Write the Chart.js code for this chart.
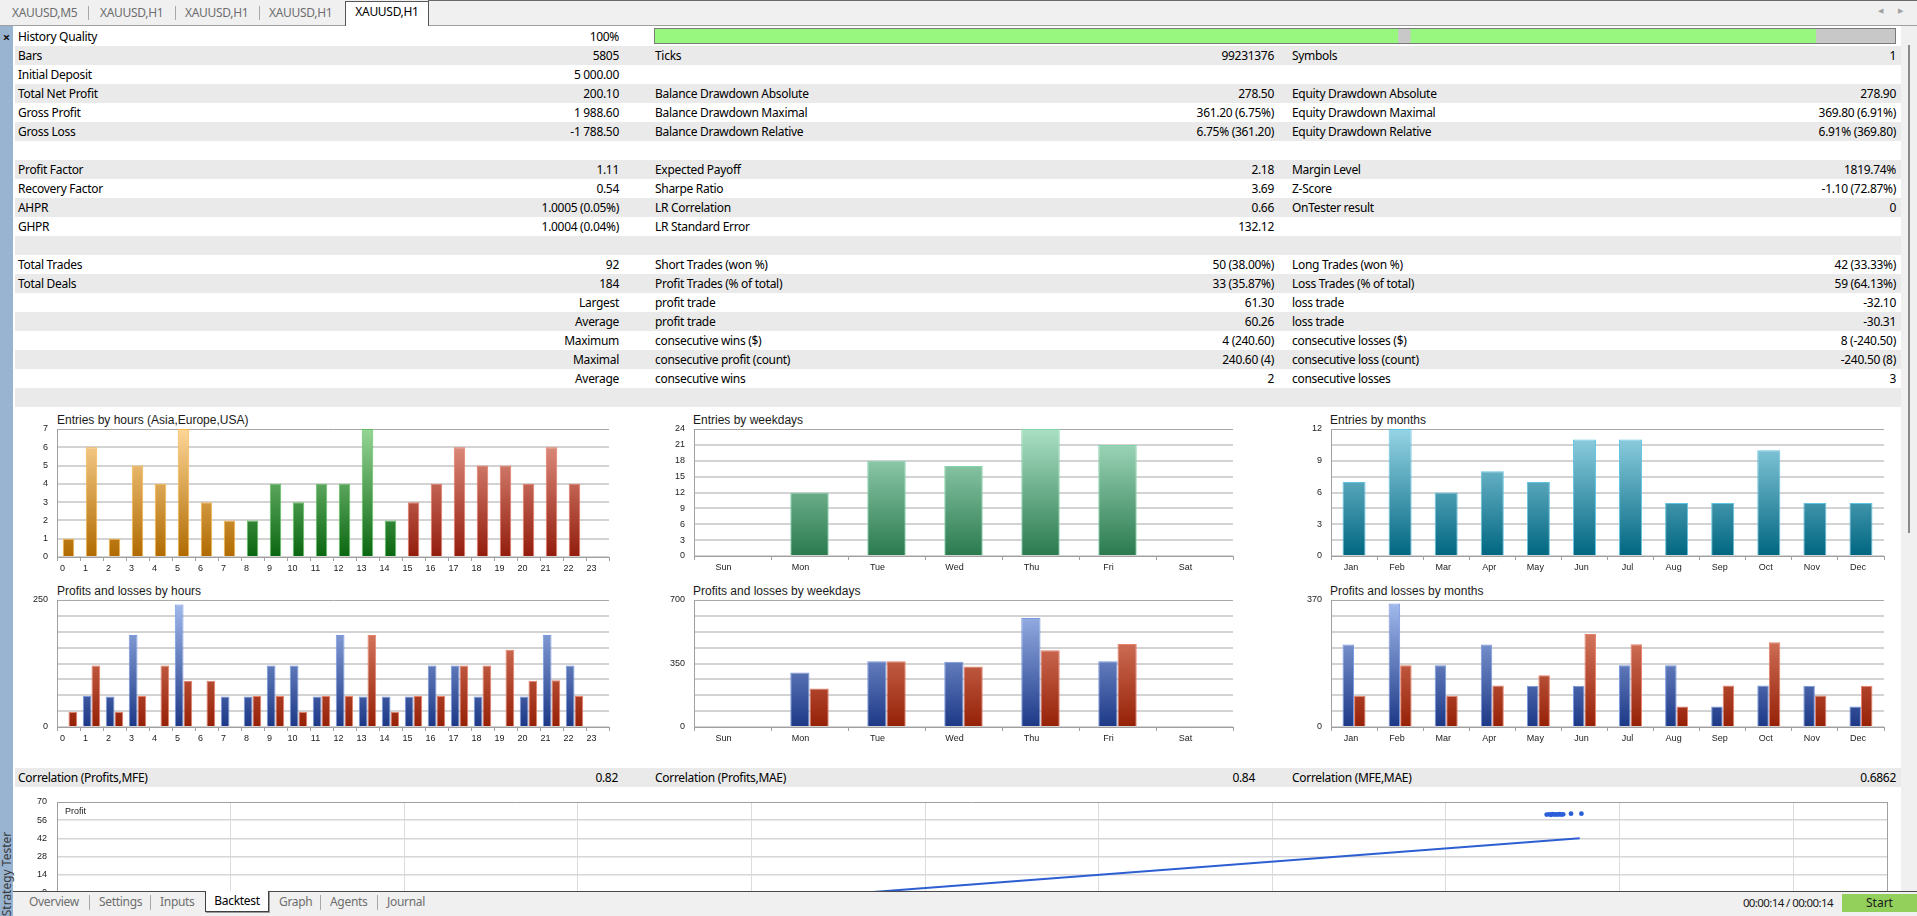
<!DOCTYPE html>
<html><head><meta charset="utf-8">
<script src="https://cdn.jsdelivr.net/npm/chart.js@4.4.1/dist/chart.umd.min.js"></script>
<style>
html,body{margin:0;padding:0;width:1917px;height:916px;overflow:hidden;background:#fff;font-family:"Noto Sans",sans-serif;font-size:12px;color:#000;}
.abs{position:absolute;}
.row{position:absolute;left:15px;width:1886px;height:19px;line-height:19px;}
.row span{position:absolute;top:0;white-space:nowrap;letter-spacing:-0.3px;}
.ttl{position:absolute;white-space:nowrap;font-family:"Liberation Sans",Arial,sans-serif;font-size:12px;color:#1a1a1a;line-height:14px;}
.tab{position:absolute;white-space:nowrap;color:#6e6e6e;letter-spacing:-0.3px;line-height:18px;}
.sep{position:absolute;width:1px;background:#a8a8a8;}
</style></head><body>
<script>
// ---------------- data ----------------
const statRows = [
 ['History Quality','100%','','','',''],
 ['Bars','5805','Ticks','99231376','Symbols','1'],
 ['Initial Deposit','5 000.00','','','',''],
 ['Total Net Profit','200.10','Balance Drawdown Absolute','278.50','Equity Drawdown Absolute','278.90'],
 ['Gross Profit','1 988.60','Balance Drawdown Maximal','361.20 (6.75%)','Equity Drawdown Maximal','369.80 (6.91%)'],
 ['Gross Loss','-1 788.50','Balance Drawdown Relative','6.75% (361.20)','Equity Drawdown Relative','6.91% (369.80)'],
 ['','','','','',''],
 ['Profit Factor','1.11','Expected Payoff','2.18','Margin Level','1819.74%'],
 ['Recovery Factor','0.54','Sharpe Ratio','3.69','Z-Score','-1.10 (72.87%)'],
 ['AHPR','1.0005 (0.05%)','LR Correlation','0.66','OnTester result','0'],
 ['GHPR','1.0004 (0.04%)','LR Standard Error','132.12','',''],
 ['','','','','',''],
 ['Total Trades','92','Short Trades (won %)','50 (38.00%)','Long Trades (won %)','42 (33.33%)'],
 ['Total Deals','184','Profit Trades (% of total)','33 (35.87%)','Loss Trades (% of total)','59 (64.13%)'],
 ['','Largest','profit trade','61.30','loss trade','-32.10'],
 ['','Average','profit trade','60.26','loss trade','-30.31'],
 ['','Maximum','consecutive wins ($)','4 (240.60)','consecutive losses ($)','8 (-240.50)'],
 ['','Maximal','consecutive profit (count)','240.60 (4)','consecutive loss (count)','-240.50 (8)'],
 ['','Average','consecutive wins','2','consecutive losses','3'],
 ['','','','','','']
];
const correlationRow = ['Correlation (Profits,MFE)','0.82','Correlation (Profits,MAE)','0.84','Correlation (MFE,MAE)','0.6862'];

const historyQualitySegments = [59.9, 1.0, 32.7, 6.4];   // % of test period: good, missing, good, missing

const hourLabels = ['0','1','2','3','4','5','6','7','8','9','10','11','12','13','14','15','16','17','18','19','20','21','22','23'];
const entriesByHour = [1,6,1,5,4,7,3,2,2,4,3,4,4,7,2,3,4,6,5,5,4,6,4,0];
const sessionNames = ['Asia','Europe','USA'];
const sessionFirstHour = [0, 8, 15];

const weekdayLabels = ['Sun','Mon','Tue','Wed','Thu','Fri','Sat'];
const entriesByWeekday = [0,12,18,17,24,21,0];

const monthLabels = ['Jan','Feb','Mar','Apr','May','Jun','Jul','Aug','Sep','Oct','Nov','Dec'];
const entriesByMonth = [7,12,6,8,7,11,11,5,5,10,5,5];

const profitsByHour = [0,61,60,181,0,241,0,60,60,121,121,60,181,60,60,60,121,121,60,0,60,181,121,0];
const lossesByHour  = [30,121,30,61,121,91,91,0,61,61,30,61,61,181,30,61,61,121,121,152,91,92,61,0];

const profitsByWeekday = [0,301,362,359,601,362,0];
const lossesByWeekday  = [0,212,362,333,423,458,0];

const profitsByMonth = [240,360,180,240,120,120,180,180,60,121,120,60];
const lossesByMonth  = [91,180,91,121,151,271,241,60,121,247,92,120];

const tickEntriesHour = [0,1,2,3,4,5,6,7];
const tickEntriesWeek = [0,3,6,9,12,15,18,21,24];
const tickEntriesMonth = [0,3,6,9,12];
const tickPLHour = [0,250];
const tickPLWeek = [0,350,700];
const tickPLMonth = [0,370];

const scatterMFE    = [85.8,85.95,86.05,86.15,86.25,86.35,86.45,86.55,86.65,86.75,87.2,87.8];
const scatterProfit = [60.3,60.5,60.2,60.6,60.3,60.5,60.4,60.6,60.3,60.5,61.0,61.0];
const regressionMFE    = [34.5, 87.7];
const regressionProfit = [-12.0, 42.1];
const scatterTicks = [70,56,42,28,14,0];
</script>

<!-- top tab bar -->
<div class="abs" style="left:0;top:0;width:1917px;height:26px;background:#f0f0f0;"></div>
<div class="abs" style="left:0;top:25px;width:1917px;height:1px;background:#a0a0a0;"></div>
<div class="abs" style="left:428px;top:0;width:1489px;height:1px;background:#6a6a6a;"></div>
<div class="tab" style="left:12px;top:4px;">XAUUSD,M5</div>
<div class="sep" style="left:88px;top:6px;height:14px;"></div>
<div class="tab" style="left:100px;top:4px;">XAUUSD,H1</div>
<div class="sep" style="left:175px;top:6px;height:14px;"></div>
<div class="tab" style="left:185px;top:4px;">XAUUSD,H1</div>
<div class="sep" style="left:259px;top:6px;height:14px;"></div>
<div class="tab" style="left:269px;top:4px;">XAUUSD,H1</div>
<div class="abs" style="left:345px;top:1px;width:84px;height:25px;box-sizing:border-box;background:#fff;border:1px solid #555;border-bottom:none;text-align:center;line-height:19px;letter-spacing:-0.3px;">XAUUSD,H1</div>
<div class="abs" style="left:1878px;top:4px;font-size:7px;color:#a0a0a0;line-height:14px;">&#9664;</div>
<div class="abs" style="left:1898px;top:4px;font-size:7px;color:#a0a0a0;line-height:14px;">&#9654;</div>

<!-- left strip -->
<div class="abs" style="left:0;top:26px;width:13px;height:890px;background:#99b4d1;"></div>
<div class="abs" style="left:0;top:28px;width:13px;text-align:center;font-size:13px;line-height:18px;font-weight:bold;color:#111;">&#215;</div>
<div class="abs" style="left:6px;top:874px;transform:translate(-50%,-50%) rotate(-90deg);white-space:nowrap;font-size:12px;color:#3a3a3a;">Strategy Tester</div>

<!-- scrollbar -->
<div class="abs" style="left:1901px;top:26px;width:16px;height:865px;background:#f0f0f0;"></div>
<div class="abs" style="left:1908px;top:45px;width:2px;height:488px;background:#8a8a8a;"></div>

<div id="rows"></div>

<!-- chart titles -->
<div class="ttl" style="left:57px;top:413px;">Entries by hours (Asia,Europe,USA)</div>
<div class="ttl" style="left:693px;top:413px;">Entries by weekdays</div>
<div class="ttl" style="left:1330px;top:413px;">Entries by months</div>
<div class="ttl" style="left:57px;top:584px;">Profits and losses by hours</div>
<div class="ttl" style="left:693px;top:584px;">Profits and losses by weekdays</div>
<div class="ttl" style="left:1330px;top:584px;">Profits and losses by months</div>

<!-- bottom bar -->
<div class="abs" style="left:13px;top:891px;width:1904px;height:25px;background:#f0f0f0;border-top:1px solid #4a4a4a;box-sizing:border-box;z-index:5;"></div>
<div style="position:absolute;left:0;top:0;z-index:6;">
  <div class="tab" style="left:29px;top:893px;">Overview</div>
  <div class="sep" style="left:89px;top:895px;height:15px;"></div>
  <div class="tab" style="left:99px;top:893px;">Settings</div>
  <div class="sep" style="left:150px;top:895px;height:15px;"></div>
  <div class="tab" style="left:160px;top:893px;">Inputs</div>
  <div class="abs" style="left:205px;top:891px;width:64px;height:21px;box-sizing:border-box;background:#fff;border:1px solid #404040;border-top:none;box-shadow:1px 1px 0 #9a9a9a;text-align:center;line-height:20px;letter-spacing:-0.3px;color:#000;">Backtest</div>
  <div class="tab" style="left:279px;top:893px;">Graph</div>
  <div class="sep" style="left:320px;top:895px;height:15px;"></div>
  <div class="tab" style="left:330px;top:893px;">Agents</div>
  <div class="sep" style="left:377px;top:895px;height:15px;"></div>
  <div class="tab" style="left:387px;top:893px;">Journal</div>
  <div class="abs" style="left:1633px;top:894px;width:200px;text-align:right;font-size:11.5px;letter-spacing:-0.6px;line-height:18px;color:#1a1a1a;white-space:nowrap;">00:00:14 / 00:00:14</div>
  <div class="abs" style="left:1842px;top:894px;width:75px;height:18px;background:#93cf5b;text-align:center;line-height:18px;color:#1a1a1a;">Start</div>
</div>

<div class="abs" style="left:65px;top:805px;font-family:'Liberation Sans',Arial,sans-serif;font-size:9px;line-height:12px;color:#222;z-index:2;">Profit</div>

<script>
// ---------------- table ----------------
const ROW_TOP = 27, ROW_H = 19, ROW_LEFT = 15, ROW_RIGHT = 1901;
const COLS = {l1:18, v1:619, l2:655, v2:1274, l3:1292, v3:1896};
function addRow(vals, top, gray, cols) {
  const r = document.createElement('div');
  r.className = 'row';
  r.style.top = top + 'px';
  r.style.background = gray ? '#eaeaea' : '#ffffff';
  const defs = [['l', cols.l1],['r', cols.v1],['l', cols.l2],['r', cols.v2],['l', cols.l3],['r', cols.v3]];
  vals.forEach((t, i) => {
    if (!t) return;
    const s = document.createElement('span');
    s.textContent = t;
    if (defs[i][0] === 'l') s.style.left = (defs[i][1] - ROW_LEFT) + 'px';
    else s.style.right = (ROW_RIGHT - defs[i][1]) + 'px';
    r.appendChild(s);
  });
  document.getElementById('rows').appendChild(r);
}
statRows.forEach((row, i) => addRow(row, ROW_TOP + i * ROW_H, i % 2 === 1, COLS));
addRow(correlationRow, 768, true, {l1:18, v1:618, l2:655, v2:1255, l3:1292, v3:1896});

// ---------------- charts ----------------
Chart.defaults.font.family = '"Liberation Sans", Arial, sans-serif';
Chart.defaults.font.size = 9;
Chart.defaults.color = '#222';
Chart.defaults.animation = false;

const AXW = 40, PT = 18, PR = 8, PB = 18, XH = 22;

function vgrad(top, bottom) {
  return (ctx) => {
    const chart = ctx.chart, a = chart.chartArea;
    if (!a) return bottom;
    const g = chart.ctx.createLinearGradient(0, a.bottom, 0, a.top);
    g.addColorStop(0, bottom); g.addColorStop(1, top);
    return g;
  };
}
const PAL = {
  Asia:   {top:'#fdd697', bottom:'#b06a00', border:'#f7b54a'},
  Europe: {top:'#96d596', bottom:'#0a6610', border:'#62c062'},
  USA:    {top:'#e69a8b', bottom:'#921c0c', border:'#e67865'},
  week:   {top:'#aae0c5', bottom:'#2a7a4e', border:'#86d4ac'},
  month:  {top:'#96d4e5', bottom:'#006680', border:'#62c3e0'},
  profit: {top:'#a5bdef', bottom:'#1c3886', border:'#7898e0'},
  loss:   {top:'#e9937c', bottom:'#952006', border:'#e8806a'}
};
function sessionOf(h) {
  let s = 0;
  sessionFirstHour.forEach((f, i) => { if (h >= f) s = i; });
  return sessionNames[s];
}

function makeBox(area, extraH) {
  const div = document.createElement('div');
  div.className = 'abs';
  div.style.left = (area[0] - AXW) + 'px';
  div.style.top = (area[1] - PT) + 'px';
  div.style.width = (area[2] - area[0] + AXW + PR) + 'px';
  div.style.height = (area[3] - area[1] + PT + extraH) + 'px';
  const cv = document.createElement('canvas');
  div.appendChild(cv);
  document.body.appendChild(div);
  return cv;
}

function barChart(area, labels, datasets, yMax, yStep, yLabeled, xLabelOffset, catPct) {
  const cv = makeBox(area, XH);
  new Chart(cv, {
    type: 'bar',
    data: {labels, datasets: datasets.map(d => Object.assign({categoryPercentage: catPct, barPercentage: 1, borderWidth: 1}, d))},
    options: {
      responsive: true, maintainAspectRatio: false, animation: false, events: [],
      layout: {padding: {top: PT, right: PR, left: 0, bottom: 0}},
      plugins: {legend: {display: false}, tooltip: {enabled: false}},
      scales: {
        x: {
          grid: {offset: true, drawOnChartArea: false, tickLength: 4, color: '#a0a0a0'},
          border: {color: '#a0a0a0'},
          ticks: {autoSkip: false, maxRotation: 0, minRotation: 0, padding: 2, labelOffset: xLabelOffset},
          afterFit: s => { s.height = XH; }
        },
        y: {
          min: 0, max: yMax,
          grid: {drawTicks: false,
                 color: c => (c.tick && c.tick.value === yMax) ? '#a8a8a8' : '#d3d3d3',
                 lineWidth: c => (c.tick && c.tick.value === yMax) ? 1 : 2},
          border: {color: '#a0a0a0'},
          ticks: {stepSize: yStep, autoSkip: false, padding: 9, includeBounds: false,
                  callback: v => yLabeled.includes(v) ? String(v) : ''},
          afterFit: s => { s.width = AXW; }
        }
      }
    }
  });
}

// Entries by hours
barChart([57, 429, 609, 557], hourLabels, [{
  data: entriesByHour, barPercentage: 0.5,
  backgroundColor: ctx => { const p = PAL[sessionOf(ctx.dataIndex)]; return vgrad(p.top, p.bottom)(ctx); },
  borderColor: ctx => PAL[sessionOf(ctx.dataIndex)].border
}], 7, 1, tickEntriesHour, -6, 1);

// Entries by weekdays
barChart([694, 429, 1233, 556], weekdayLabels, [{
  data: entriesByWeekday, barPercentage: 0.5,
  backgroundColor: vgrad(PAL.week.top, PAL.week.bottom), borderColor: PAL.week.border
}], 24, 3, tickEntriesWeek, -9, 1);

// Entries by months
barChart([1331, 429, 1884, 556], monthLabels, [{
  data: entriesByMonth, barPercentage: 0.5,
  backgroundColor: vgrad(PAL.month.top, PAL.month.bottom), borderColor: PAL.month.border
}], 12, 1.5, tickEntriesMonth, -3, 1);

function plSets(p, l) {
  return [
    {data: p, backgroundColor: vgrad(PAL.profit.top, PAL.profit.bottom), borderColor: PAL.profit.border},
    {data: l, backgroundColor: vgrad(PAL.loss.top, PAL.loss.bottom), borderColor: PAL.loss.border}
  ];
}
barChart([57, 600, 609, 727], hourLabels, plSets(profitsByHour, lossesByHour), 250, 31.25, tickPLHour, -6, 0.76);
barChart([694, 600, 1233, 727], weekdayLabels, plSets(profitsByWeekday, lossesByWeekday), 700, 87.5, tickPLWeek, -9, 0.5);
barChart([1331, 600, 1884, 727], monthLabels, plSets(profitsByMonth, lossesByMonth), 370, 46.25, tickPLMonth, -3, 0.5);

// Scatter Profit vs MFE
(function(){
  const cv = makeBox([57, 802, 1887, 911.2], PB);
  new Chart(cv, {
    type: 'scatter',
    data: {datasets: [
      {data: scatterMFE.map((x, i) => ({x, y: scatterProfit[i]})), pointRadius: 2.4, pointBorderWidth: 0,
       backgroundColor: '#2b5fd9', borderColor: '#2b5fd9'},
      {data: regressionMFE.map((x, i) => ({x, y: regressionProfit[i]})), showLine: true, pointRadius: 0,
       borderColor: '#2e5fd2', borderWidth: 2}
    ]},
    options: {
      responsive: true, maintainAspectRatio: false, animation: false, events: [],
      layout: {padding: {top: PT, right: PR, left: 0, bottom: PB}},
      plugins: {legend: {display: false}, tooltip: {enabled: false}},
      scales: {
        x: {type: 'linear', min: 0, max: 105.4,
            ticks: {stepSize: 10, display: false, includeBounds: false},
            grid: {color: '#dcdcdc', drawTicks: false}, border: {display: false},
            afterFit: s => { s.height = 0; }},
        y: {min: -14, max: 70,
            ticks: {stepSize: 14, padding: 10, autoSkip: false, includeBounds: false,
                    callback: v => scatterTicks.includes(v) ? String(v) : ''},
            grid: {drawTicks: false, color: c => (c.tick && c.tick.value === 70) ? '#a0a0a0' : '#d6d6d6',
                   lineWidth: c => (c.tick && c.tick.value === 70) ? 1 : 1.5},
            border: {color: '#a0a0a0'},
            afterFit: s => { s.width = AXW; }},
        y2: {position: 'right', display: true, grid: {display: false}, ticks: {display: false},
             border: {color: '#a0a0a0'}, afterFit: s => { s.width = 0; }}
      }
    }
  });
})();

// History quality bar
(function(){
  const box = document.createElement('div');
  box.className = 'abs';
  box.style.cssText = 'left:654px;top:28px;width:1242px;height:16px;box-sizing:border-box;border:1px solid #7a7a7a;';
  const inner = document.createElement('div');
  inner.style.cssText = 'position:relative;width:1240px;height:14px;';
  const cv = document.createElement('canvas');
  inner.appendChild(cv); box.appendChild(inner); document.body.appendChild(box);
  new Chart(cv, {
    type: 'bar',
    data: {labels: ['quality'], datasets: historyQualitySegments.map((v, i) => ({
      data: [v], backgroundColor: i % 2 ? '#c8c8c8' : '#98f77f', borderWidth: 0,
      barPercentage: 1, categoryPercentage: 1}))},
    options: {
      indexAxis: 'y', responsive: true, maintainAspectRatio: false, animation: false, events: [],
      layout: {padding: 0},
      plugins: {legend: {display: false}, tooltip: {enabled: false}},
      scales: {x: {stacked: true, min: 0, max: 100, display: false},
               y: {stacked: true, display: false}}
    }
  });
})();
</script>
</body></html>
